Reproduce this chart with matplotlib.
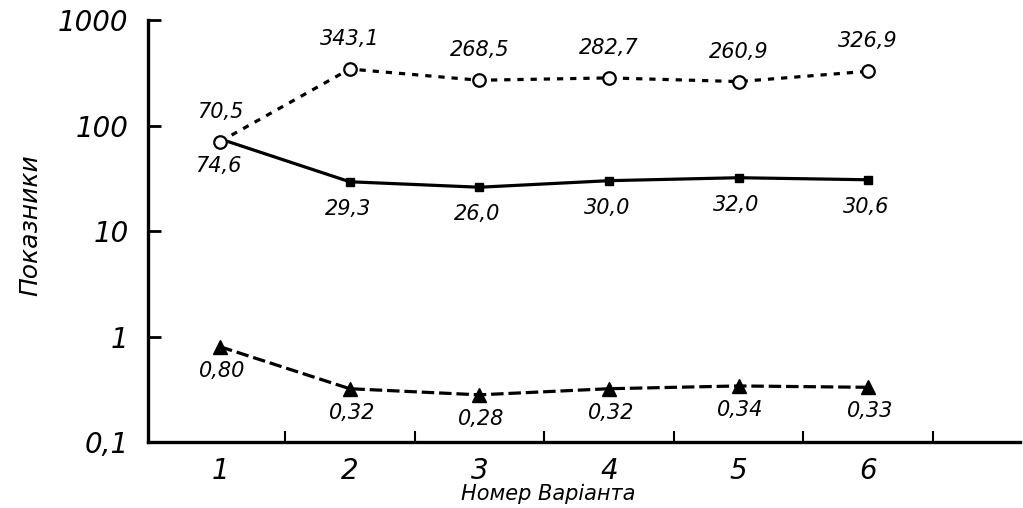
import matplotlib
matplotlib.use("Agg")
import matplotlib.pyplot as plt
from matplotlib.ticker import FixedLocator, NullLocator

# data
variants = [1, 2, 3, 4, 5, 6]
circles = [70.5, 343.1, 268.5, 282.7, 260.9, 326.9]
squares = [74.6, 29.3, 26.0, 30.0, 32.0, 30.6]
triangles = [0.80, 0.32, 0.28, 0.32, 0.34, 0.33]

y_ticks = [0.1, 1, 10, 100, 1000]
y_tick_labels = ["0,1", "1", "10", "100", "1000"]


def fmt(v, nd):
    return f"{v:.{nd}f}".replace(".", ",")


plt.rcParams["font.family"] = ["DejaVu Sans"]
plt.rcParams["font.style"] = "italic"
plt.rcParams["lines.scale_dashes"] = False

fig = plt.figure(figsize=(10.23, 5.08), dpi=100)
ax = fig.add_axes([0.1447, 0.1299, 0.8523, 0.8307])

ax.plot(variants, squares, color="black", lw=2.3, marker="s", ms=6,
        markevery=[1, 2, 3, 4, 5], zorder=2)
ax.plot(variants, circles, color="black", lw=2.3, dashes=(4.5, 5),
        marker="o", ms=9, mfc="white", mec="black", mew=1.6, zorder=3)
ax.plot(variants, triangles, color="black", lw=2.3, dashes=(9, 3.5),
        marker="^", ms=10, zorder=2)

for x, v in zip(variants, circles):
    ax.annotate(fmt(v, 1), (x, v), xytext=(0, 30), textcoords="offset pixels",
                ha="center", va="center", fontsize=15)
for x, v in zip(variants, squares):
    ax.annotate(fmt(v, 1), (x, v), xytext=(-2, -27), textcoords="offset pixels",
                ha="center", va="center", fontsize=15)
for x, v in zip(variants, triangles):
    ax.annotate(fmt(v, 2), (x, v), xytext=(2, -24), textcoords="offset pixels",
                ha="center", va="center", fontsize=15)

ax.set_yscale("log")
ax.set_ylim(0.1, 1000)
ax.set_xlim(0.444, 7.17)

ax.yaxis.set_major_locator(FixedLocator(y_ticks))
ax.set_yticklabels(y_tick_labels)
ax.yaxis.set_minor_locator(NullLocator())
ax.set_xticks(variants)
ax.set_xticklabels([str(v) for v in variants])
ax.xaxis.set_minor_locator(FixedLocator([1.5, 2.5, 3.5, 4.5, 5.5, 6.5]))

ax.tick_params(axis="y", which="major", direction="in", length=9, width=2,
               pad=14, labelsize=20)
ax.tick_params(axis="x", which="major", length=0, pad=11, labelsize=20)
ax.tick_params(axis="x", which="minor", direction="in", length=8, width=1.5)

for side in ("top", "right"):
    ax.spines[side].set_visible(False)
for side in ("left", "bottom"):
    ax.spines[side].set_linewidth(2.4)

ax.set_ylabel("Показники", fontsize=18)
ax.yaxis.set_label_coords(-0.1216, 0.514)
ax.set_xlabel("Номер Варіанта", fontsize=15, labelpad=0)
ax.xaxis.set_label_coords(0.459, -0.0995)

fig.savefig("out.png", dpi=100)
